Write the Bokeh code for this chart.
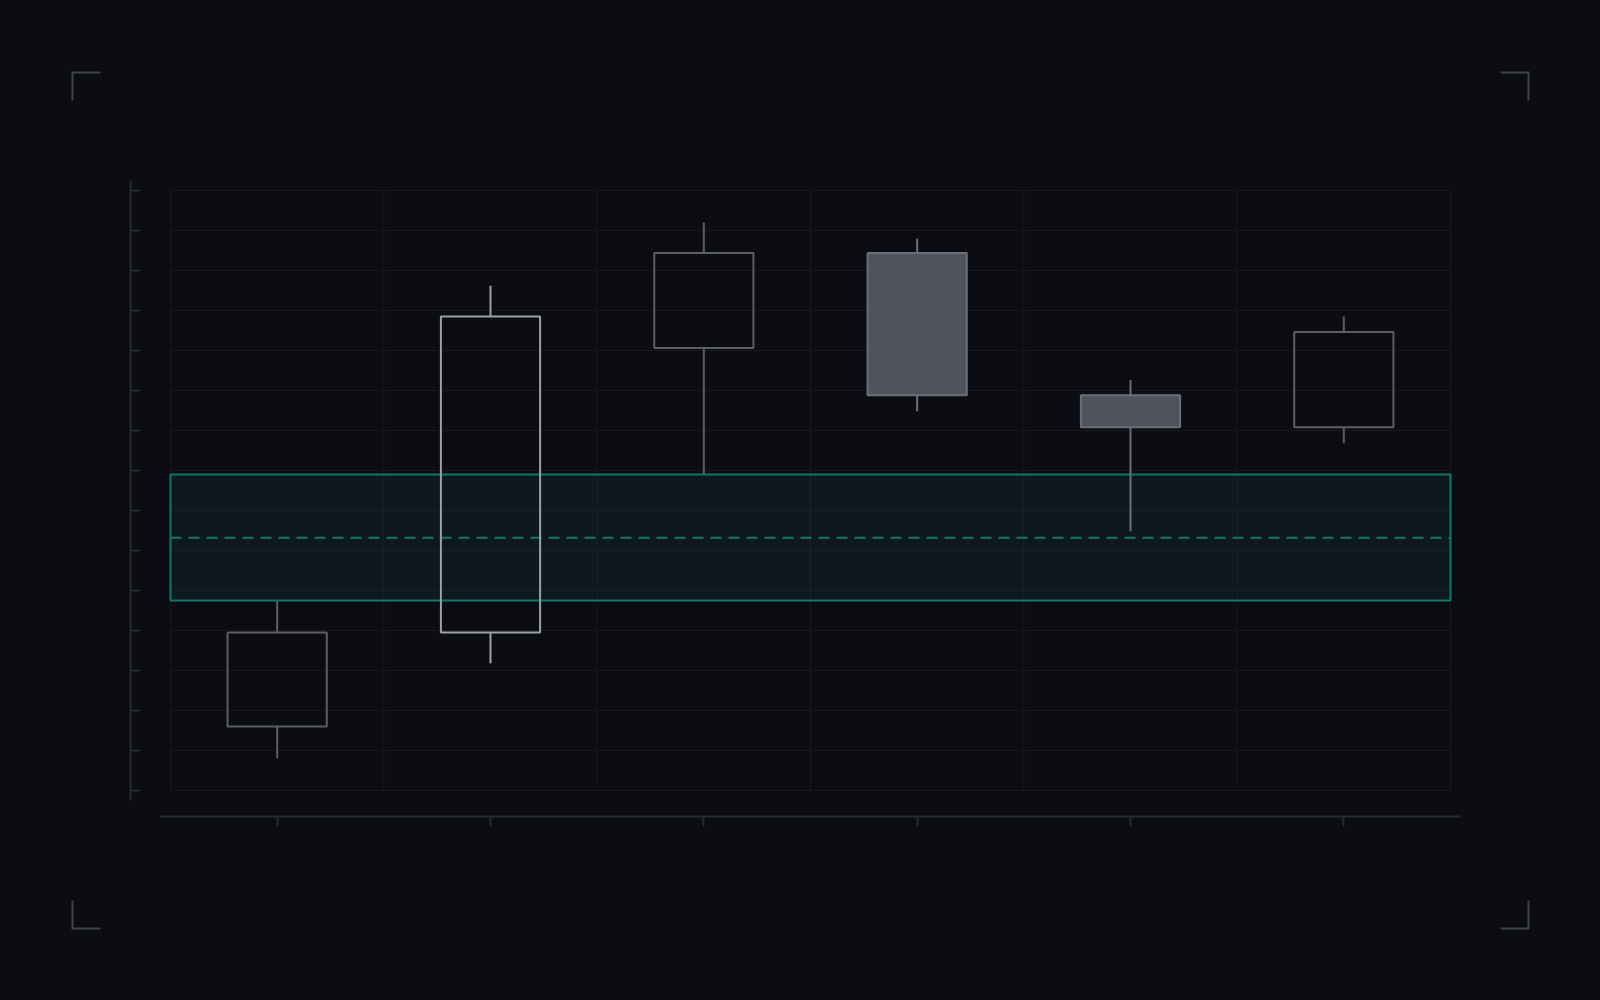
import numpy as np
from bokeh.plotting import figure
from bokeh.models import ColumnDataSource, FixedTicker, Range1d
from bokeh.embed import file_html
from bokeh.resources import INLINE

# ---------------- data ----------------
sessions = ["S1", "S2", "S3", "S4", "S5", "S6"]
open_ = [108.0, 119.75, 155.3, 167.2, 149.4, 145.4]
high = [123.75, 163.1, 171.0, 169.0, 151.3, 159.25]
low = [104.0, 115.9, 139.5, 147.4, 132.4, 143.4]
close = [119.75, 159.25, 167.2, 149.4, 145.4, 157.3]
zone_low = 123.75
zone_high = 139.5
zone_mid = 131.6
y_ticks = [100, 105, 110, 115, 120, 125, 130, 135, 140, 145, 150, 155, 160, 165, 170, 175]
highlight = "S2"

# ---------------- style ----------------
BG = "#0c0d12"
GRID = "#16181e"
AXIS = "#272b32"
BRACKET = "#3d424c"
TEAL = "#14b8a6"
TEAL_LINE = "#107968"
UP_LINE = "#5b5e66"
HI_LINE = "#9ca0a8"
DOWN_FILL = "#50535b"
DOWN_LINE = "#6c6f77"

W, H = 1584, 984
LEFT, RIGHT, TOP, BOTTOM = 122, 132, 172, 176
GRID_W = 1280
GRID_H = 600
n = len(sessions)
ppx = GRID_W / n
ppy = GRID_H / (y_ticks[-1] - y_ticks[0])
x_start, x_end = -40 / ppx, n + 10 / ppx
y_start, y_end = y_ticks[0] - 26 / ppy, y_ticks[-1] + 10 / ppy

p = figure(width=W, height=H,
           x_range=Range1d(x_start, x_end), y_range=Range1d(y_start, y_end),
           output_backend="svg", toolbar_location=None,
           min_border_left=LEFT, min_border_right=RIGHT,
           min_border_top=TOP, min_border_bottom=BOTTOM,
           background_fill_color=BG, border_fill_color=BG,
           outline_line_color=None)
p.xgrid.visible = False
p.ygrid.visible = False

centers = [i + 0.5 for i in range(n)]
edges = list(range(n + 1))

# axes
xa = p.xaxis[0]
xa.ticker = FixedTicker(ticks=centers)
xa.bounds = (-10 / ppx, x_end)
xa.axis_line_color = AXIS
xa.axis_line_width = 2
xa.major_tick_line_color = AXIS
xa.major_tick_line_width = 2
xa.major_tick_in = 0
xa.major_tick_out = 10
xa.minor_tick_line_color = None
xa.major_label_overrides = {c: "" for c in centers}
xa.major_label_text_font_size = "0px"
xa.major_label_standoff = 0

ya = p.yaxis[0]
ya.ticker = FixedTicker(ticks=y_ticks)
ya.bounds = (y_ticks[0] - 10 / ppy, y_end)
ya.axis_line_color = AXIS
ya.axis_line_width = 2
ya.major_tick_line_color = AXIS
ya.major_tick_line_width = 2
ya.major_tick_in = 10
ya.major_tick_out = 0
ya.minor_tick_line_color = None
ya.major_label_overrides = {t: "" for t in y_ticks}
ya.major_label_text_font_size = "0px"
ya.major_label_standoff = 0

# grid
p.segment(x0=edges, y0=[y_ticks[0]] * len(edges), x1=edges, y1=[y_ticks[-1]] * len(edges),
          line_color=GRID, line_width=1)
p.segment(x0=[0] * len(y_ticks), y0=y_ticks, x1=[n] * len(y_ticks), y1=y_ticks,
          line_color=GRID, line_width=1)

# zone band
p.quad(left=[0], right=[n], bottom=[zone_low], top=[zone_high],
       fill_color=TEAL, fill_alpha=0.08, line_color=TEAL_LINE, line_width=2)
p.segment(x0=[0], y0=[zone_mid], x1=[n], y1=[zone_mid],
          line_color=TEAL_LINE, line_width=2, line_dash="11 7")

# candles
o = np.array(open_)
c = np.array(close)
up = c >= o
body_top = np.maximum(o, c)
body_bot = np.minimum(o, c)
line_cols = []
fill_alpha = []
for s, u in zip(sessions, up):
    if s == highlight:
        line_cols.append(HI_LINE)
    elif u:
        line_cols.append(UP_LINE)
    else:
        line_cols.append(DOWN_LINE)
    fill_alpha.append(0.0 if u else 1.0)

src = ColumnDataSource(dict(x=centers, high=high, low=low, top=body_top, bot=body_bot,
                            lc=line_cols, fa=fill_alpha))
p.segment(x0="x", y0="high", x1="x", y1="top", source=src, line_color="lc", line_width=2)
p.segment(x0="x", y0="bot", x1="x", y1="low", source=src, line_color="lc", line_width=2)
p.vbar(x="x", width=0.465, top="top", bottom="bot", source=src,
       fill_color=DOWN_FILL, fill_alpha="fa", line_color="lc", line_width=2)

# ---------- corner brackets (page decoration, drawn at overlay level) ----------
def dx(fx):
    return x_start + (fx - LEFT) / ppx

def dy(fy):
    return y_end - (fy - TOP) / ppy

INS, ARM = 64, 28
R = W - INS
B = H - INS
bxs, bys = [], []
for cx, cy, sx, sy in [(INS, INS, 1, 1), (R, INS, -1, 1), (INS, B, 1, -1), (R, B, -1, -1)]:
    bxs.append([dx(cx), dx(cx), dx(cx + sx * ARM)])
    bys.append([dy(cy + sy * ARM), dy(cy), dy(cy)])
p.multi_line(xs=bxs, ys=bys, line_color=BRACKET, line_width=2,
             line_cap="butt", line_join="miter", level="overlay")

html = file_html(p, INLINE)
style = ("<style>html, body { background-color: %s !important; overflow: hidden !important; }"
         " body { margin: 8px !important; }</style>" % BG)
html = html.replace("</head>", style + "</head>", 1)
open("out.html", "w").write(html)
